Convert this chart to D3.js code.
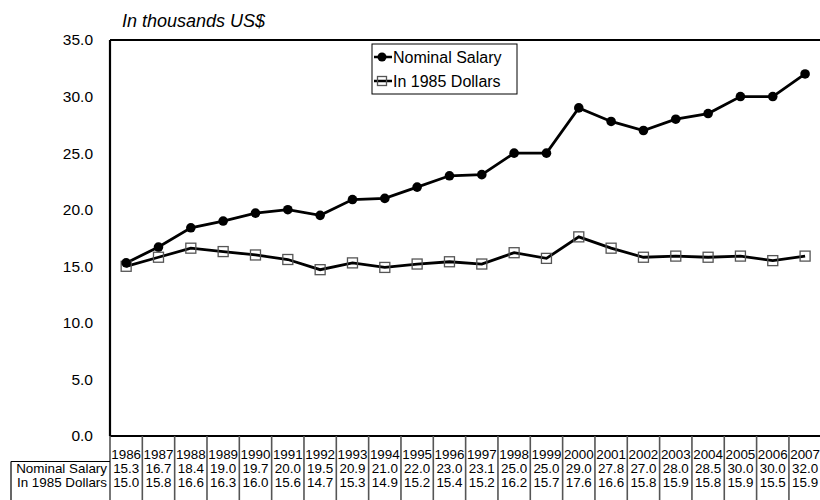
<!DOCTYPE html>
<html>
<head>
<meta charset="utf-8">
<script src="https://cdn.jsdelivr.net/npm/d3@7"></script>
<style>
  html, body { margin: 0; padding: 0; background: #fff; }
  svg { display: block; font-family: "Liberation Sans", Arial, sans-serif; }
</style>
</head>
<body>
<svg id="chart" width="820" height="500"></svg>
<script>
// Average salary, 1986-2007
const years = ["1986","1987","1988","1989","1990","1991","1992","1993","1994","1995","1996",
               "1997","1998","1999","2000","2001","2002","2003","2004","2005","2006","2007"];
const nominalSalary = [15.3,16.7,18.4,19.0,19.7,20.0,19.5,20.9,21.0,22.0,23.0,
                       23.1,25.0,25.0,29.0,27.8,27.0,28.0,28.5,30.0,30.0,32.0];
const dollars1985 = [15.0,15.8,16.6,16.3,16.0,15.6,14.7,15.3,14.9,15.2,15.4,
                     15.2,16.2,15.7,17.6,16.6,15.8,15.9,15.8,15.9,15.5,15.9];
const seriesNames = ["Nominal Salary", "In 1985 Dollars"];
const yTicks = [0, 5, 10, 15, 20, 25, 30, 35];

const svg = d3.select("#chart");
const plotLeft = 110, plotTop = 40, plotBottom = 436, colW = 32.33;
const plotRight = plotLeft + colW * years.length;

const x = d3.scaleBand().domain(years).range([plotLeft, plotRight]);
const y = d3.scaleLinear().domain([0, 35]).range([plotBottom, plotTop]);
const cx = d => x(d) + x.bandwidth() / 2;
const fmt = d3.format(".1f");

// Title
svg.append("text")
  .attr("x", 122).attr("y", 26.5)
  .attr("font-size", 18).attr("font-style", "italic")
  .text("In thousands US$");

// Y axis labels
const yAxis = d3.axisLeft(y).tickValues(yTicks).tickFormat(fmt).tickSize(0).tickPadding(17);
const gy = svg.append("g").attr("transform", `translate(${plotLeft},0)`).call(yAxis);
gy.select(".domain").remove();
gy.selectAll("text").attr("font-size", 15.5).attr("fill", "#000")
  .attr("font-family", "Liberation Sans, Arial, sans-serif");

// Plot frame: top, left, bottom, right
const frame = [
  [plotLeft, plotTop, plotRight, plotTop],
  [plotLeft, plotTop, plotLeft, plotBottom],
  [plotLeft, plotBottom, plotRight, plotBottom],
  [plotRight, plotTop, plotRight, plotBottom]
];
svg.append("g").selectAll("line").data(frame).join("line")
  .attr("x1", d => d[0]).attr("y1", d => d[1]).attr("x2", d => d[2]).attr("y2", d => d[3])
  .attr("stroke", "#000").attr("stroke-width", 2.2);

// Lines
const line = d3.line().x((d, i) => cx(years[i])).y(d => y(d));
svg.append("path").datum(dollars1985).attr("d", line)
  .attr("fill", "none").attr("stroke", "#000").attr("stroke-width", 2.8);
svg.append("path").datum(nominalSalary).attr("d", line)
  .attr("fill", "none").attr("stroke", "#000").attr("stroke-width", 2.8);

// Markers
const sq = 10;
svg.append("g").selectAll("rect").data(dollars1985).join("rect")
  .attr("x", (d, i) => cx(years[i]) - sq / 2).attr("y", d => y(d) - sq / 2)
  .attr("width", sq).attr("height", sq)
  .attr("fill", "none").attr("stroke", "#555").attr("stroke-width", 1.3);
svg.append("g").selectAll("circle").data(nominalSalary).join("circle")
  .attr("cx", (d, i) => cx(years[i])).attr("cy", d => y(d)).attr("r", 4.8)
  .attr("fill", "#000");

// Legend
const lg = svg.append("g");
lg.append("rect").attr("x", 372).attr("y", 44).attr("width", 145).attr("height", 50)
  .attr("fill", "#fff").attr("stroke", "#000").attr("stroke-width", 1);
const ly = [57, 81];
lg.append("line").attr("x1", 374).attr("x2", 392).attr("y1", ly[0]).attr("y2", ly[0])
  .attr("stroke", "#000").attr("stroke-width", 2.5);
lg.append("circle").attr("cx", 382).attr("cy", ly[0]).attr("r", 4.5).attr("fill", "#000");
lg.append("line").attr("x1", 374).attr("x2", 392).attr("y1", ly[1]).attr("y2", ly[1])
  .attr("stroke", "#000").attr("stroke-width", 2.5);
lg.append("rect").attr("x", 377.5).attr("y", ly[1] - 4.5).attr("width", 9).attr("height", 9)
  .attr("fill", "none").attr("stroke", "#555").attr("stroke-width", 1.3);
lg.selectAll("text.lab").data(seriesNames).join("text").attr("class", "lab")
  .attr("x", 393).attr("y", (d, i) => ly[i]).attr("dy", "0.35em")
  .attr("font-size", 16).text(d => d);

// Data table
const tbl = svg.append("g");
const rowYear = 454, rowNom = 468.5, rowReal = 482.5, tableTop = 461.5;
const tfs = 13.4;
// column separators
tbl.selectAll("line.col").data(years.concat(["end"])).join("line").attr("class", "col")
  .attr("x1", (d, i) => plotLeft + i * colW).attr("x2", (d, i) => plotLeft + i * colW)
  .attr("y1", plotBottom).attr("y2", 500)
  .attr("stroke", "#555").attr("stroke-width", 1.6);
// row label cell
tbl.append("line").attr("x1", 11).attr("x2", plotLeft).attr("y1", tableTop).attr("y2", tableTop)
  .attr("stroke", "#000").attr("stroke-width", 1.2);
tbl.append("line").attr("x1", 11).attr("x2", 11).attr("y1", tableTop).attr("y2", 500)
  .attr("stroke", "#000").attr("stroke-width", 1.2);

tbl.selectAll("text.yr").data(years).join("text").attr("class", "yr")
  .attr("x", d => cx(d)).attr("y", rowYear).attr("dy", "0.35em")
  .attr("text-anchor", "middle").attr("font-size", tfs).text(d => d);
tbl.selectAll("text.nom").data(nominalSalary).join("text").attr("class", "nom")
  .attr("x", (d, i) => cx(years[i])).attr("y", rowNom).attr("dy", "0.35em")
  .attr("text-anchor", "middle").attr("font-size", tfs).text(d => fmt(d));
tbl.selectAll("text.real").data(dollars1985).join("text").attr("class", "real")
  .attr("x", (d, i) => cx(years[i])).attr("y", rowReal).attr("dy", "0.35em")
  .attr("text-anchor", "middle").attr("font-size", tfs).text(d => fmt(d));
tbl.selectAll("text.rl").data(seriesNames).join("text").attr("class", "rl")
  .attr("x", plotLeft - 3).attr("y", (d, i) => [rowNom, rowReal][i]).attr("dy", "0.35em")
  .attr("text-anchor", "end").attr("font-size", tfs).text(d => d);
</script>
</body>
</html>
